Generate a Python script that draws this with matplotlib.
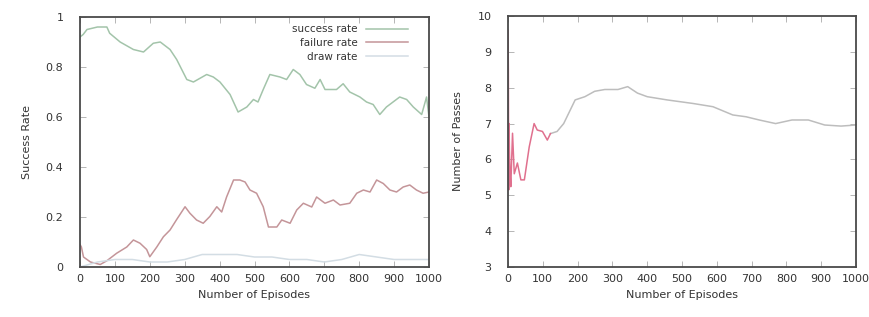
import matplotlib
matplotlib.use("Agg")
import matplotlib.pyplot as plt

# ---- data ----
succ_ep = [0, 9, 20, 50, 77, 85, 115, 153, 182, 210, 230, 258, 277, 306, 325, 363, 382, 401, 430,
           453, 478, 497, 510, 525, 544, 573, 592, 611, 630, 649, 673, 688, 702, 735, 754, 773,
           802, 821, 840, 859, 878, 897, 916, 936, 955, 979, 993, 1000]
succ_val = [0.92, 0.93, 0.95, 0.96, 0.96, 0.935, 0.90, 0.87, 0.86, 0.895, 0.90, 0.87, 0.83, 0.75,
            0.74, 0.77, 0.76, 0.74, 0.69, 0.62, 0.64, 0.67, 0.66, 0.71, 0.77, 0.76, 0.75, 0.79,
            0.77, 0.73, 0.715, 0.75, 0.71, 0.71, 0.733, 0.70, 0.68, 0.66, 0.65, 0.61, 0.64, 0.66,
            0.68, 0.67, 0.64, 0.61, 0.68, 0.60]

fail_ep = [0, 4, 10, 30, 58, 77, 105, 134, 153, 172, 191, 200, 220, 239, 258, 277, 301, 315, 334,
           353, 372, 392, 406, 420, 440, 458, 473, 487, 506, 525, 540, 564, 578, 602, 621, 640,
           664, 678, 702, 726, 745, 773, 793, 812, 831, 850, 869, 888, 907, 926, 945, 964, 983, 1000]
fail_val = [0.09, 0.08, 0.04, 0.02, 0.01, 0.025, 0.055, 0.08, 0.108, 0.095, 0.07, 0.041, 0.08,
            0.121, 0.148, 0.19, 0.241, 0.215, 0.188, 0.175, 0.202, 0.241, 0.22, 0.28, 0.348,
            0.348, 0.34, 0.308, 0.295, 0.241, 0.16, 0.16, 0.188, 0.175, 0.228, 0.255, 0.24, 0.28,
            0.255, 0.268, 0.248, 0.255, 0.295, 0.308, 0.30, 0.348, 0.334, 0.308, 0.30, 0.32,
            0.328, 0.308, 0.295, 0.30]

draw_ep = [0, 50, 100, 150, 200, 250, 300, 350, 400, 450, 500, 550, 600, 650, 700, 750, 800,
           850, 900, 950, 1000]
draw_val = [0.0, 0.02, 0.03, 0.03, 0.02, 0.02, 0.03, 0.05, 0.05, 0.05, 0.04, 0.04, 0.03, 0.03,
            0.02, 0.03, 0.05, 0.04, 0.03, 0.03, 0.03]

pass_early_ep = [0, 1, 2, 3, 4, 6, 8, 13, 18, 27, 37, 47, 61, 75, 84, 99, 113, 122]
pass_early_val = [9.6, 8.5, 5.15, 7.0, 6.26, 5.6, 5.24, 6.73, 5.6, 5.9, 5.43, 5.43, 6.35, 7.0,
                  6.82, 6.78, 6.54, 6.72]
pass_ep = [122, 141, 160, 174, 193, 221, 249, 278, 316, 344, 372, 400, 457, 532, 589, 646, 684,
           722, 769, 816, 863, 910, 957, 1000]
pass_val = [6.72, 6.78, 7.0, 7.28, 7.66, 7.75, 7.9, 7.95, 7.95, 8.03, 7.85, 7.75, 7.66, 7.56,
            7.47, 7.24, 7.19, 7.1, 7.0, 7.1, 7.1, 6.96, 6.93, 6.96]

x_ticks = [0, 100, 200, 300, 400, 500, 600, 700, 800, 900, 1000]
left_yticks = [0, 0.2, 0.4, 0.6, 0.8, 1]
left_yticklabels = ["0", "0.2", "0.4", "0.6", "0.8", "1"]
right_yticks = [3, 4, 5, 6, 7, 8, 9, 10]

# ---- figure ----
plt.rcParams['font.family'] = ['DejaVu Sans']
fig = plt.figure(figsize=(8.7, 3.17), dpi=100)
frame_col = '#4a4a4a'
text_col = '#333333'

ax1 = fig.add_axes([80/870, 1-267/317, 349/870, 250/317])
ax2 = fig.add_axes([508/870, 1-267/317, 348/870, 251/317])

ax1.plot(succ_ep, succ_val, color='#a3c4aa', lw=1.1, label='success rate')
ax1.plot(fail_ep, fail_val, color='#c49599', lw=1.1, label='failure rate')
ax1.plot(draw_ep, draw_val, color='#d3dde4', lw=1.1, label='draw rate')
ax1.set_xlim(0, 1000)
ax1.set_ylim(0, 1)
ax1.set_yticks(left_yticks)
ax1.set_yticklabels(left_yticklabels)
ax1.set_ylabel('Success Rate', fontsize=8, color=text_col, labelpad=10)
ax1.set_xlabel('Number of Episodes', fontsize=8, color=text_col, labelpad=4)
leg = ax1.legend(loc='upper right', bbox_to_anchor=(0.96, 1.0), markerfirst=False,
                 frameon=False, fontsize=7.5, handlelength=4, labelspacing=0.35,
                 borderaxespad=0.3)
for t in leg.get_texts():
    t.set_color(text_col)
    t.set_ha('right')
leg._legend_box.align = 'right'

ax2.plot(pass_ep, pass_val, color='#bdbdbd', lw=1.1)
ax2.plot(pass_early_ep, pass_early_val, color='#e0708e', lw=1.1)
ax2.set_xlim(0, 1000)
ax2.set_ylim(3, 10)
ax2.set_yticks(right_yticks)
ax2.set_ylabel('Number of Passes', fontsize=8, color=text_col, labelpad=10)
ax2.set_xlabel('Number of Episodes', fontsize=8, color=text_col, labelpad=4)

for ax in (ax1, ax2):
    ax.set_xticks(x_ticks)
    for s in ax.spines.values():
        s.set_color(frame_col)
        s.set_linewidth(1.3)
    ax.tick_params(direction='in', top=True, right=True, length=4, width=0.6,
                   colors='#aaaaaa', labelcolor=text_col, labelsize=8)
    ax.tick_params(axis='y', pad=12)
    ax.tick_params(axis='x', pad=5)

fig.savefig('out.png', dpi=100)
